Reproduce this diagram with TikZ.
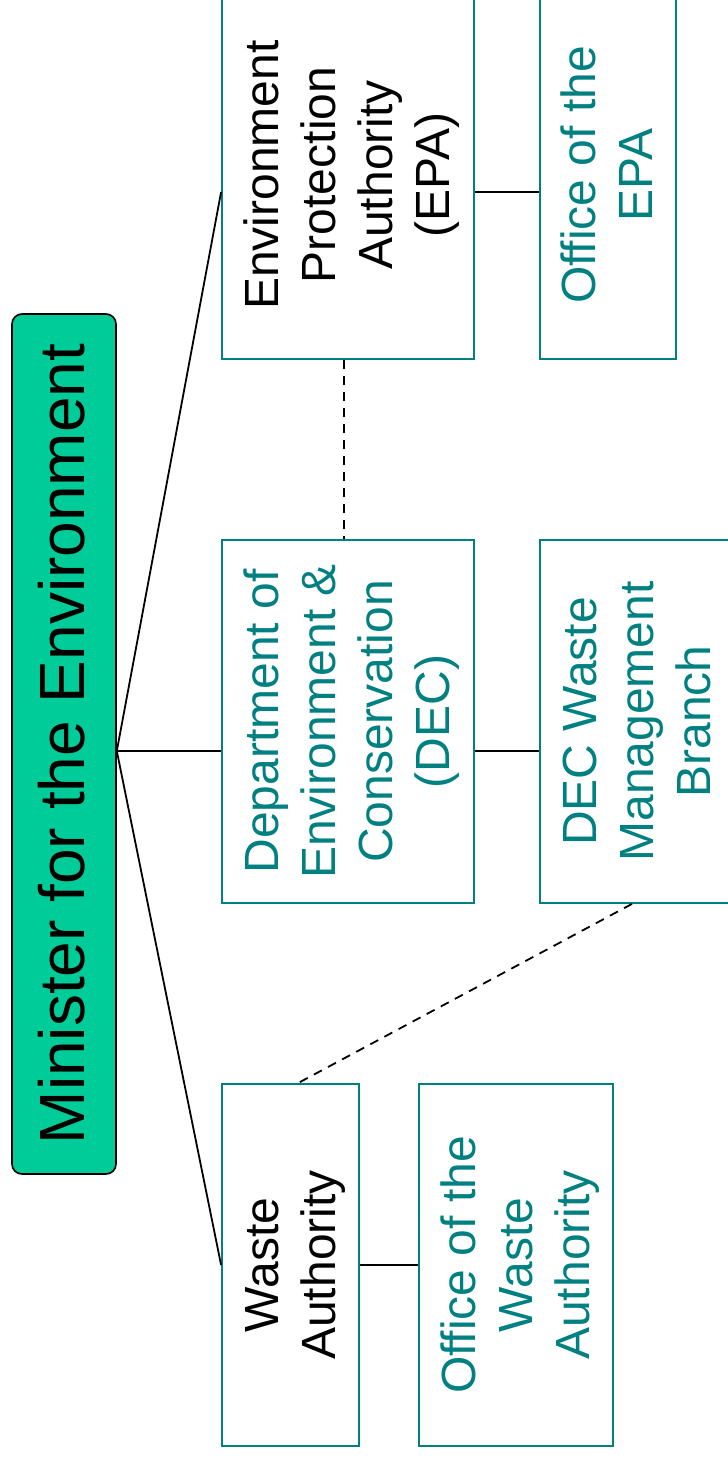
\documentclass[tikz,border=0pt]{standalone}
\usepackage{fontspec}
\setmainfont{Liberation Sans}
\usetikzlibrary{positioning}
\definecolor{orgteal}{RGB}{0,128,128}
\definecolor{ministergreen}{RGB}{0,204,153}
\newcommand{\uprot}[1]{\rotatebox{90}{\raisebox{-5pt}[\height][\depth]{\begin{tabular}{@{}c@{}}#1\end{tabular}}}}

\begin{document}
\begin{tikzpicture}[x=1pt,y=-1pt,
  unit/.style={draw=orgteal,line width=1.8pt,inner sep=0pt,
    font=\fontsize{48}{57}\selectfont},
  minister/.style={draw=black,line width=1.6pt,fill=ministergreen,
    rounded corners=10pt,inner sep=0pt,font=\fontsize{64}{76}\selectfont},
  link/.style={line width=1.8pt},
  dotlink/.style={line width=1.8pt,dash pattern=on 9pt off 7pt}]
  \useasboundingbox (0,0) rectangle (728,1459);
  \clip (0,0) rectangle (728,1459);
  % minister
  \node[minister,minimum width=104pt,minimum height=860pt] (min) at (64,744)
    {\uprot{Minister for the Environment}};
  % agencies
  \node[unit,minimum width=252pt,minimum height=368pt] (epa) at (348,175)
    {\uprot{Environment\\Protection\\Authority\\(EPA)}};
  \node[unit,minimum width=252pt,minimum height=363pt] (dec) at (348,721.5)
    {\color{orgteal}\uprot{Department of\\Environment \&\\Conservation\\(DEC)}};
  \node[unit,minimum width=137pt,minimum height=362pt] (wa) at (290.5,1265)
    {\uprot{Waste\\Authority}};
  % offices
  \node[unit,minimum width=136pt,minimum height=368pt] (oepa) at (608,175)
    {\color{orgteal}\uprot{Office of the\\EPA}};
  \node[unit,minimum width=194pt,minimum height=363pt] (decw) at (637,721.5)
    {\color{orgteal}\uprot{DEC Waste\\Management\\Branch}};
  \node[unit,minimum width=194pt,minimum height=362pt] (owa) at (516,1265)
    {\color{orgteal}\uprot{Office of the\\Waste\\Authority}};
  % connectors
  \coordinate (hub) at ([yshift=-7pt]min.east);
  \draw[link] (hub) -- ([yshift=-17pt]epa.west);
  \draw[link] (hub) -- ([yshift=-29.5pt]dec.west);
  \draw[link] (hub) -- (wa.west);
  \draw[link] ([yshift=-17pt]epa.east) -- ([yshift=-17pt]oepa.west);
  \draw[link] ([yshift=-29.5pt]dec.east) -- ([yshift=-29.5pt]decw.west);
  \draw[link] (wa.east) -- (owa.west);
  \draw[dotlink] ([xshift=-4pt]epa.south) -- ([xshift=-4pt]dec.north);
  \draw[dotlink] ([xshift=-5pt]decw.south) -- ([xshift=7.5pt]wa.north);
\end{tikzpicture}
\end{document}
